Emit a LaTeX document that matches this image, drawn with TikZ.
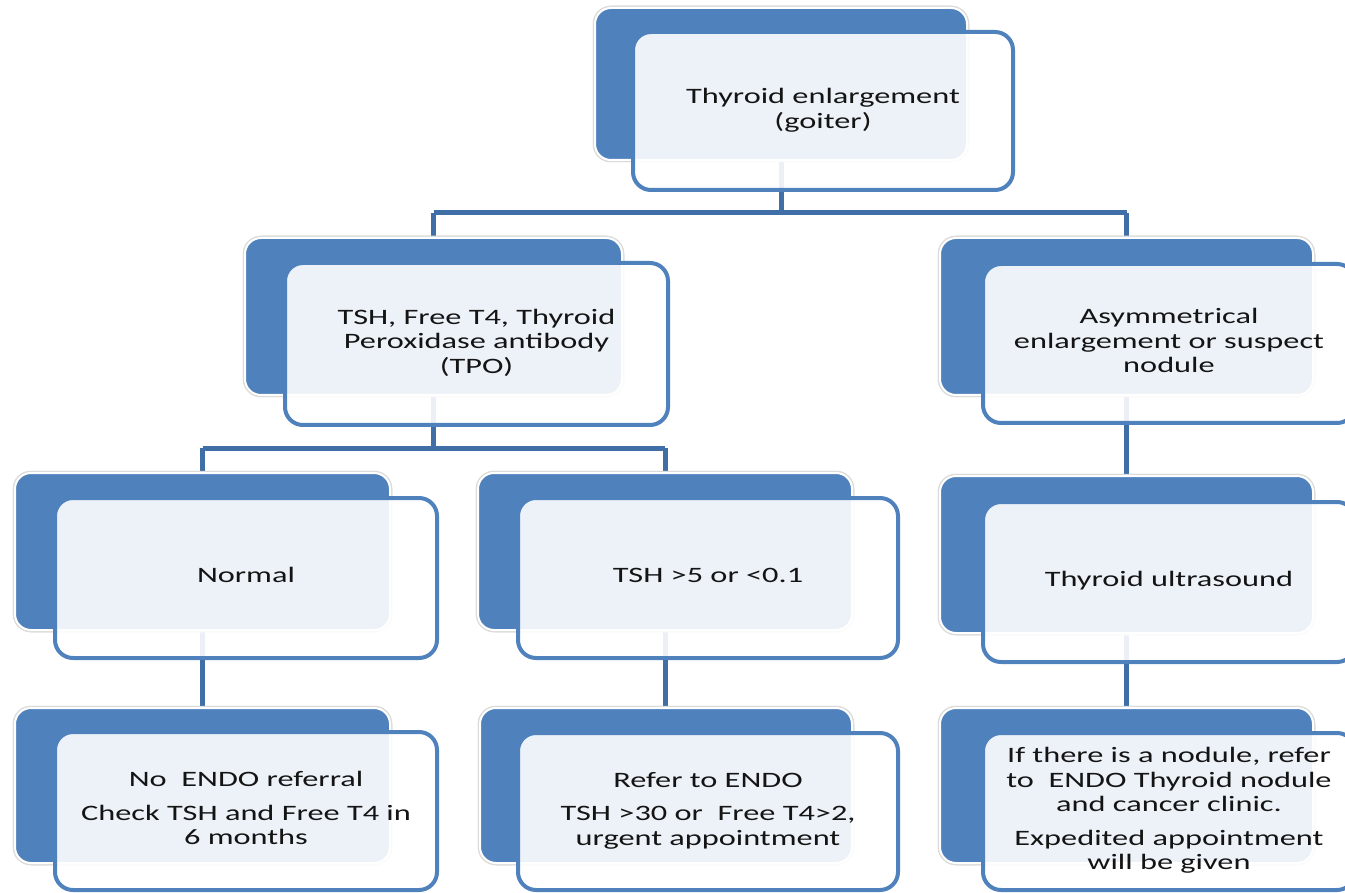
\documentclass[tikz,border=0pt]{standalone}
\usepackage{fontspec}
\setmainfont{Carlito}
\usepackage{graphicx}
\definecolor{accent}{RGB}{79,129,189}
\definecolor{conncol}{RGB}{64,110,166}
\definecolor{txtcol}{RGB}{20,20,20}
\newcommand\stretchtxt[1]{\scalebox{1.47}[1]{\begin{tabular}{@{}c@{}}#1\end{tabular}}}
\tikzset{
  darkbox/.style={preaction={draw=black!14, line width=4.5}, draw=white, line width=2,
    fill=accent, rounded corners=16, inner sep=0pt, outer sep=0pt},
  frontbox/.style={draw=accent, line width=4, fill=white, fill opacity=0.9, text opacity=1,
    rounded corners=18, inner sep=0pt, outer sep=0pt, text=txtcol,
    font=\fontsize{22}{24.5}\selectfont},
  conn/.style={draw=conncol, line width=5}
}
\begin{document}
\begin{tikzpicture}[x=1pt,y=-1pt]
\useasboundingbox (0,0) rectangle (1345,893);
\clip (0,0) rectangle (1345,893);
\fill[white] (0,0) rectangle (1345,893);

% dark (back) boxes, named, used as connector anchors
\node[darkbox, minimum width=372, minimum height=152] (topD)  at (781,84) {};
\node[darkbox, minimum width=377, minimum height=157] (tshD)  at (433.5,316.5) {};
\node[darkbox, minimum width=373, minimum height=157] (asymD) at (1126.5,316.5) {};
\node[darkbox, minimum width=375, minimum height=157] (normD) at (202.5,551.5) {};
\node[darkbox, minimum width=374, minimum height=157] (highD) at (665,551.5) {};
\node[darkbox, minimum width=373, minimum height=157] (usD)   at (1126.5,554.5) {};
\node[darkbox, minimum width=375, minimum height=155] (blD)   at (202.5,785.5) {};
\node[darkbox, minimum width=372, minimum height=155] (bmD)   at (666,785.5) {};
\node[darkbox, minimum width=373, minimum height=155] (brD)   at (1126.5,785.5) {};

% connectors
\coordinate (bar1) at (0,213);
\coordinate (bar2) at (0,448);
\draw[conn] (topD.south) -- (topD.south |- bar1);
\draw[conn] (tshD.north |- bar1) -- (asymD.north |- bar1);
\draw[conn] (tshD.north |- bar1) -- (tshD.north);
\draw[conn] (asymD.north |- bar1) -- (asymD.north);
\draw[conn] (tshD.south) -- (tshD.south |- bar2);
\draw[conn] (normD.north |- bar2) -- (highD.north |- bar2);
\draw[conn] (normD.north |- bar2) -- (normD.north);
\draw[conn] (highD.north |- bar2) -- (highD.north);
\draw[conn] (normD.south) -- (blD.north);
\draw[conn] (highD.south) -- (highD.south |- bmD.north);
\draw[conn] (asymD.south) -- (usD.north);
\draw[conn] (usD.south) -- (usD.south |- brD.north);

% redraw dark boxes over connector ends
\node[darkbox, minimum width=372, minimum height=152] at (781,84) {};
\node[darkbox, minimum width=377, minimum height=157] at (433.5,316.5) {};
\node[darkbox, minimum width=373, minimum height=157] at (1126.5,316.5) {};
\node[darkbox, minimum width=375, minimum height=157] at (202.5,551.5) {};
\node[darkbox, minimum width=374, minimum height=157] at (665,551.5) {};
\node[darkbox, minimum width=373, minimum height=157] at (1126.5,554.5) {};
\node[darkbox, minimum width=375, minimum height=155] at (202.5,785.5) {};
\node[darkbox, minimum width=372, minimum height=155] at (666,785.5) {};
\node[darkbox, minimum width=373, minimum height=155] at (1126.5,785.5) {};

% front boxes with text
\node[frontbox, minimum width=380, minimum height=158] (topF) at (823,111)
  {\stretchtxt{Thyroid enlargement\\(goiter)}};
\node[frontbox, minimum width=383, minimum height=162] (tshF) at (476.5,344)
  {\stretchtxt{TSH, Free T4, Thyroid\\Peroxidase antibody\\(TPO)}};
\node[frontbox, minimum width=372, minimum height=159] (asymF) at (1169,343.5)
  {\stretchtxt{Asymmetrical\\enlargement or suspect\\nodule}};
\node[frontbox, minimum width=382, minimum height=160] (normF) at (246,578)
  {\stretchtxt{Normal}};
\node[frontbox, minimum width=380, minimum height=160] (highF) at (708,578)
  {\stretchtxt{TSH >5 or <0.1}};
\node[frontbox, minimum width=372, minimum height=160] (usF) at (1169,582)
  {\stretchtxt{Thyroid ultrasound}};
\node[frontbox, minimum width=382, minimum height=158] (blF) at (246,811)
  {\stretchtxt{No\ \ ENDO referral\\[9pt]Check TSH and Free T4 in\\6 months}};
\node[frontbox, minimum width=380, minimum height=157] (bmF) at (708,811.5)
  {\stretchtxt{Refer to ENDO\\[9pt]TSH >30 or\ \ Free T4>2,\\urgent appointment}};
\node[frontbox, minimum width=372, minimum height=157] (brF) at (1169,811.5)
  {\stretchtxt{If there is a nodule, refer\\to\ \ ENDO Thyroid nodule\\and cancer clinic.\\[9pt]Expedited appointment\\will be given}};
\end{tikzpicture}
\end{document}
